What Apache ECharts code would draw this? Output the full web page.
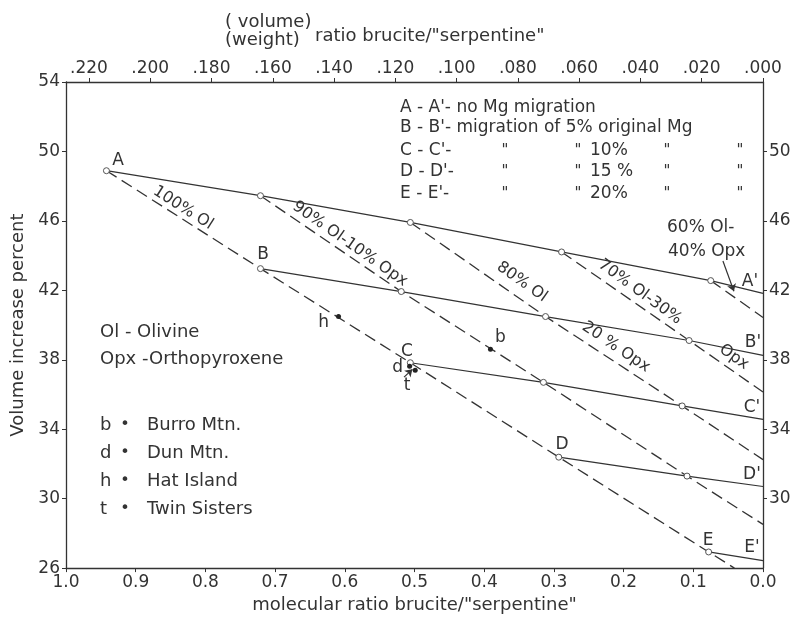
<!DOCTYPE html>
<html>
<head>
<meta charset="utf-8">
<script src="https://cdn.jsdelivr.net/npm/echarts@6/dist/echarts.min.js"></script>
<style>
  html, body { margin: 0; padding: 0; background: #fff; }
  #chart { width: 799px; height: 619px; }
</style>
</head>
<body>
<div id="chart"></div>
<script>
(function () {
    'use strict';

    // Mg migration lines (solid), [molecular ratio, volume increase %]
    var lineAA = [[0.942, 48.89], [0.721, 47.45], [0.506, 45.91], [0.289, 44.21], [0.075, 42.56], [0, 41.82]];
    var lineBB = [[0.721, 43.25], [0.519, 41.93], [0.312, 40.49], [0.106, 39.11], [0, 38.25]];
    var lineCC = [[0.506, 37.83], [0.315, 36.70], [0.116, 35.34], [0, 34.57]];
    var lineDD = [[0.293, 32.39], [0.109, 31.30], [0, 30.70]];
    var lineEE = [[0.078, 26.93], [0, 26.43]];

    // composition lines (dashed)
    var ol100 = [[0.942, 48.89], [0.721, 43.25], [0.506, 37.83], [0.293, 32.39], [0.078, 26.93], [0.041, 26.0]];
    var ol90 = [[0.721, 47.45], [0.519, 41.93], [0.315, 36.70], [0.109, 31.30], [0, 28.52]];
    var ol80 = [[0.506, 45.91], [0.312, 40.49], [0.116, 35.34], [0, 32.25]];
    var ol70 = [[0.289, 44.21], [0.106, 39.11], [0, 36.14]];
    var ol60 = [[0.075, 42.56], [0, 40.44]];

    // samples
    var sampleNames = ['b', 'd', 'h', 't'];
    var sampleX = [0.391, 0.507, 0.609, 0.499];
    var sampleY = [38.60, 37.62, 40.49, 37.39];

    // tick labels
    var bottomTicks = [1.0, 0.9, 0.8, 0.7, 0.6, 0.5, 0.4, 0.3, 0.2, 0.1, 0.0];
    var topTicks = [0.22, 0.20, 0.18, 0.16, 0.14, 0.12, 0.10, 0.08, 0.06, 0.04, 0.02, 0.00];
    var leftTicks = [54, 50, 46, 42, 38, 34, 30, 26];
    var rightTicks = [50, 46, 42, 38, 34, 30];

    var INK = '#333';
    var FONT = '"DejaVu Sans", sans-serif';

    var solidLines = [lineAA, lineBB, lineCC, lineDD, lineEE];
    var dashLines = [ol100, ol90, ol80, ol70, ol60];

    // open circles at every intersection (all solid points but the axis end)
    var nodes = [];
    for (var i = 0; i < solidLines.length; i++) {
        for (var j = 0; j < solidLines[i].length - 1; j++) {
            nodes.push(solidLines[i][j]);
        }
    }

    var samplePoints = [];
    var sampleOffsets = { b: [10, -12], d: [-12, 1], h: [-15, 6], t: [-8, 15] };
    for (var s = 0; s < sampleNames.length; s++) {
        samplePoints.push({
            value: [sampleX[s], sampleY[s]],
            label: { offset: sampleOffsets[sampleNames[s]] },
            name: sampleNames[s]
        });
    }

    var series = [];
    solidLines.forEach(function (d) {
        series.push({
            type: 'line', data: d, symbol: 'none', silent: true,
            lineStyle: { color: INK, width: 1.2 }
        });
    });
    dashLines.forEach(function (d) {
        series.push({
            type: 'line', data: d, symbol: 'none', silent: true,
            lineStyle: { color: INK, width: 1.3, type: [12, 6] }
        });
    });
    series.push({
        type: 'scatter', data: nodes, symbol: 'circle', symbolSize: 6, silent: true,
        itemStyle: { color: '#fff', borderColor: '#555', borderWidth: 1, opacity: 1 },
        z: 5
    });
    series.push({
        type: 'scatter', data: samplePoints, symbolSize: 5, silent: true,
        itemStyle: { color: '#222', opacity: 1 },
        label: {
            show: true, formatter: '{b}', position: 'inside', opacity: 1,
            color: INK, fontSize: 17, fontFamily: FONT
        },
        z: 6
    });
    // arrows from the 60% Ol - 40% Opx note and from the t label
    series.push({
        type: 'lines', coordinateSystem: 'cartesian2d', silent: true,
        symbol: ['none', 'arrow'], symbolSize: 7,
        lineStyle: { color: INK, width: 1.2, opacity: 1 },
        data: [{ coords: [[0.0575, 43.69], [0.0417, 41.95]] }, { coords: [[0.515, 37.0], [0.503, 37.45]] }]
    });

    function txt(x, y, s, size, rot, align) {
        return {
            type: 'text', x: x, y: y, rotation: rot ? -rot * Math.PI / 180 : 0, silent: true,
            style: {
                text: s, fontSize: size, fontFamily: FONT, fill: INK,
                align: align || 'left', verticalAlign: 'middle'
            },
            z: 10
        };
    }

    var graphics = [
        // top axis title
        txt(225, 22, '( volume)', 18),
        txt(225, 40, '(weight)', 18),
        txt(315, 36, 'ratio brucite/"serpentine"', 18),
        // key of migration lines
        txt(400, 108, 'A - A\'- no Mg migration', 17),
        txt(400, 128, 'B - B\'- migration of 5% original Mg', 17),
        txt(400, 151, 'C - C\'-', 17), txt(400, 172, 'D - D\'-', 17), txt(400, 194, 'E - E\'-', 17),
        txt(505, 151, '"', 15, 0, 'center'), txt(578, 151, '"', 15, 0, 'center'),
        txt(667, 151, '"', 15, 0, 'center'), txt(740, 151, '"', 15, 0, 'center'),
        txt(505, 172, '"', 15, 0, 'center'), txt(578, 172, '"', 15, 0, 'center'),
        txt(667, 172, '"', 15, 0, 'center'), txt(740, 172, '"', 15, 0, 'center'),
        txt(505, 194, '"', 15, 0, 'center'), txt(578, 194, '"', 15, 0, 'center'),
        txt(667, 194, '"', 15, 0, 'center'), txt(740, 194, '"', 15, 0, 'center'),
        txt(590, 151, '10%', 17), txt(590, 172, '15 %', 17), txt(590, 194, '20%', 17),
        // mineral key
        txt(100, 332, 'Ol - Olivine', 18),
        txt(100, 359, 'Opx -Orthopyroxene', 18),
        // sample key
        txt(100, 425, 'b', 18), txt(125, 425, '\u2022', 16, 0, 'center'), txt(147, 425, 'Burro Mtn.', 18),
        txt(100, 453, 'd', 18), txt(125, 453, '\u2022', 16, 0, 'center'), txt(147, 453, 'Dun Mtn.', 18),
        txt(100, 481, 'h', 18), txt(125, 481, '\u2022', 16, 0, 'center'), txt(147, 481, 'Hat Island', 18),
        txt(100, 509, 't', 18), txt(125, 509, '\u2022', 16, 0, 'center'), txt(147, 509, 'Twin Sisters', 18),
        // point letters
        txt(118, 161, 'A', 17, 0, 'center'), txt(263, 255, 'B', 17, 0, 'center'),
        txt(407, 352, 'C', 17, 0, 'center'), txt(562, 445, 'D', 17, 0, 'center'),
        txt(708, 541, 'E', 17, 0, 'center'),
        txt(750, 282, 'A\'', 17, 0, 'center'), txt(753, 343, 'B\'', 17, 0, 'center'),
        txt(752, 408, 'C\'', 17, 0, 'center'), txt(752, 475, 'D\'', 17, 0, 'center'),
        txt(752, 548, 'E\'', 17, 0, 'center'),
        // composition labels
        txt(183, 208, '100% Ol', 16, 32.5, 'center'),
        txt(350, 244, '90% Ol-10% Opx', 16, 35, 'center'),
        txt(522, 282, '80% Ol', 16, 35, 'center'),
        txt(616, 347, '20 % Opx', 16, 34, 'center'),
        txt(640, 292, '70% Ol-30%', 16, 36, 'center'),
        txt(734, 357, 'Opx', 16, 35, 'center'),
        txt(667, 228, '60% Ol-', 17),
        txt(668, 252, '40% Opx', 17)
    ];

    var axisText = { color: INK, fontSize: 17, fontFamily: FONT };
    var axisLine = { show: true, onZero: false, lineStyle: { color: INK, width: 1.3 } };
    var tick = { show: true, inside: false, length: 4, lineStyle: { color: INK } };

    var chart = echarts.init(document.getElementById('chart'), null, { renderer: 'canvas' });

    chart.setOption({
        animation: false,
        backgroundColor: '#fff',
        grid: { left: 66, right: 36, top: 82, bottom: 47 },
        xAxis: [{
            type: 'value', position: 'bottom', min: 0, max: 1, interval: 0.1, inverse: true,
            name: 'molecular ratio brucite/"serpentine"', nameLocation: 'middle', nameGap: 26,
            nameTextStyle: { color: INK, fontSize: 18, fontFamily: FONT },
            axisLine: axisLine,
            axisTick: Object.assign({ customValues: bottomTicks }, tick),
            axisLabel: Object.assign({
                customValues: bottomTicks, margin: 6,
                formatter: function (v) { return v.toFixed(1); }
            }, axisText),
            splitLine: { show: false }
        }, {
            type: 'value', position: 'top', min: 0, max: 0.2275, interval: 0.02, inverse: true,
            axisLine: axisLine,
            axisTick: Object.assign({ customValues: topTicks }, tick),
            axisLabel: Object.assign({
                customValues: topTicks, margin: 5,
                formatter: function (v) { return '.' + ('00' + Math.round(v * 1000)).slice(-3); }
            }, axisText),
            splitLine: { show: false }
        }],
        yAxis: [{
            type: 'value', position: 'left', min: 26, max: 54, interval: 2,
            name: 'Volume increase percent', nameLocation: 'middle', nameGap: 38, nameRotate: 90,
            nameTextStyle: { color: INK, fontSize: 18, fontFamily: FONT },
            axisLine: axisLine,
            axisTick: Object.assign({ customValues: leftTicks }, tick),
            axisLabel: Object.assign({ customValues: leftTicks, margin: 6 }, axisText),
            splitLine: { show: false }
        }, {
            type: 'value', position: 'right', min: 26, max: 54, interval: 2,
            axisLine: axisLine,
            axisTick: Object.assign({ customValues: rightTicks }, tick),
            axisLabel: Object.assign({ customValues: rightTicks, margin: 6 }, axisText),
            splitLine: { show: false }
        }],
        series: series,
        graphic: graphics
    });
}());
</script>
</body>
</html>
